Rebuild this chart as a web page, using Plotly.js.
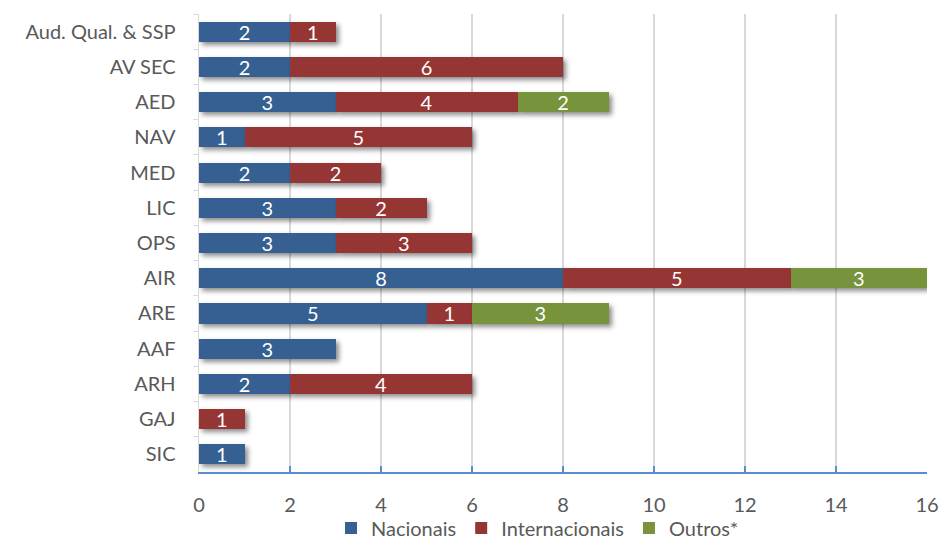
<!DOCTYPE html>
<html>
<head>
<meta charset="utf-8">
<script src="https://cdn.plot.ly/plotly-3.0.1.min.js"></script>
<style>
  html, body { margin: 0; padding: 0; background: #fff; }
  #chart { width: 945px; height: 541px; }
  .barlayer .point path { filter: drop-shadow(3px 3px 2.5px rgba(0,0,0,0.45)); }
</style>
</head>
<body>
<div id="chart"></div>
<script>
// Areas, listed top to bottom
const areas = ["Aud. Qual. & SSP", "AV SEC", "AED", "NAV", "MED", "LIC", "OPS", "AIR", "ARE", "AAF", "ARH", "GAJ", "SIC"];
const nacionais      = [2, 2, 3, 1, 2, 3, 3, 8, 5, 3, 2, 0, 1];
const internacionais = [1, 6, 4, 5, 2, 2, 3, 5, 1, 0, 4, 1, 0];
const outros         = [0, 0, 2, 0, 0, 0, 0, 3, 3, 0, 0, 0, 0];
const xTicks = [0, 2, 4, 6, 8, 10, 12, 14, 16];

const FONT = "Lato, 'Open Sans', sans-serif";

function series(name, values, color) {
  const xs = values.map(v => (v === 0 ? null : v));
  return {
    type: "bar",
    orientation: "h",
    name: name,
    y: areas,
    x: xs,
    text: xs.map(v => (v === null ? "" : String(v))),
    textposition: "inside",
    insidetextanchor: "middle",
    constraintext: "none",
    textangle: 0,
    textfont: { family: FONT, size: 20, color: "#ffffff" },
    marker: { color: color, line: { width: 0 } },
    hoverinfo: "skip"
  };
}

const data = [
  series("Nacionais", nacionais, "#366092"),
  series("Internacionais", internacionais, "#963634"),
  series("Outros*", outros, "#77933c")
];

const layout = {
  width: 945,
  height: 541,
  margin: { l: 199, r: 18, t: 14, b: 69, autoexpand: false },
  barmode: "stack",
  bargap: 0.43,
  paper_bgcolor: "#ffffff",
  plot_bgcolor: "#ffffff",
  font: { family: FONT, size: 20, color: "#595959" },
  showlegend: true,
  legend: {
    orientation: "h",
    traceorder: "normal",
    bgcolor: "rgba(0,0,0,0)",
    x: 0.465, xanchor: "center",
    y: -0.122, yanchor: "middle",
    font: { family: FONT, size: 20, color: "#595959" },
    itemwidth: 30,
    tracegroupgap: 0
  },
  xaxis: {
    range: [0, 16],
    tickvals: xTicks,
    ticktext: xTicks.map(String),
    showgrid: true,
    gridcolor: "#d9d9d9",
    gridwidth: 1.5,
    zeroline: false,
    showline: true,
    linecolor: "#5b8bd0",
    linewidth: 2,
    ticks: "inside",
    ticklen: 6,
    tickwidth: 2,
    tickcolor: "#5b8bd0",
    ticklabelstandoff: 14,
    tickfont: { family: FONT, size: 20, color: "#595959" },
    fixedrange: true
  },
  yaxis: {
    type: "category",
    autorange: "reversed",
    tickson: "boundaries",
    showgrid: false,
    zeroline: false,
    showline: true,
    linecolor: "#d9d9d9",
    linewidth: 1.5,
    ticks: "outside",
    ticklen: 5,
    tickcolor: "#d9d9d9",
    ticklabelstandoff: 18,
    tickfont: { family: FONT, size: 20, color: "#595959" },
    fixedrange: true
  }
};

Plotly.newPlot("chart", data, layout, { displayModeBar: false, staticPlot: true });
</script>
</body>
</html>
